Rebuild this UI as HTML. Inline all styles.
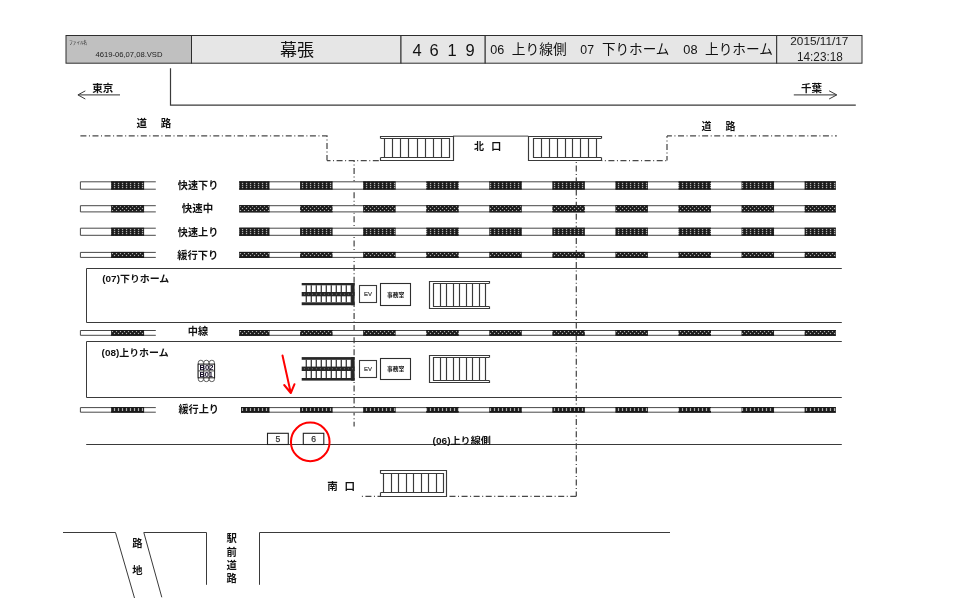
<!DOCTYPE html>
<html lang="ja">
<head>
<meta charset="utf-8">
<title>幕張 4619 構内図</title>
<style>
html,body{margin:0;padding:0;background:#fff;}
body{width:960px;height:604px;overflow:hidden;font-family:"Liberation Sans","Noto Sans CJK JP",sans-serif;}
svg{display:block;will-change:transform;}
svg text{font-family:"Liberation Sans","Noto Sans CJK JP",sans-serif;}
</style>
</head>
<body>
<svg width="960" height="604" viewBox="0 0 960 604">
<rect width="960" height="604" fill="#fff"/>
<g stroke="#2e2e2e" stroke-width="1">
<rect x="66" y="35.5" width="125.5" height="27.7" fill="#c0c0c0"/>
<rect x="191.5" y="35.5" width="209.5" height="27.7" fill="#e6e6e6"/>
<rect x="401" y="35.5" width="84.2" height="27.7" fill="#e6e6e6"/>
<rect x="485.2" y="35.5" width="291.5" height="27.7" fill="#e6e6e6"/>
<rect x="776.7" y="35.5" width="85.3" height="27.7" fill="#e6e6e6"/>
</g>
<text x="69.3" y="43.6" font-size="4.5" fill="#222" textLength="17.8" lengthAdjust="spacingAndGlyphs">ファイル名</text>
<text x="95.4" y="56.9" font-size="6.7" fill="#222" textLength="67.1" lengthAdjust="spacingAndGlyphs">4619-06,07,08.VSD</text>
<text x="297" y="56" font-size="17" fill="#111" text-anchor="middle">幕張</text>
<text x="417" y="56.2" font-size="16.5" fill="#111" text-anchor="middle">4</text>
<text x="434" y="56.2" font-size="16.5" fill="#111" text-anchor="middle">6</text>
<text x="452" y="56.2" font-size="16.5" fill="#111" text-anchor="middle">1</text>
<text x="470" y="56.2" font-size="16.5" fill="#111" text-anchor="middle">9</text>
<text x="490.3" y="54.3" font-size="13.5" fill="#111" textLength="14" lengthAdjust="spacingAndGlyphs">06</text>
<text x="511.8" y="54.3" font-size="13.5" fill="#111" textLength="54.8" lengthAdjust="spacingAndGlyphs">上り線側</text>
<text x="580.3" y="54.3" font-size="13.5" fill="#111" textLength="13.7" lengthAdjust="spacingAndGlyphs">07</text>
<text x="601.9" y="54.3" font-size="13.5" fill="#111" textLength="67.5" lengthAdjust="spacingAndGlyphs">下りホーム</text>
<text x="683.3" y="54.3" font-size="13.5" fill="#111" textLength="14.2" lengthAdjust="spacingAndGlyphs">08</text>
<text x="705" y="54.3" font-size="13.5" fill="#111" textLength="67.9" lengthAdjust="spacingAndGlyphs">上りホーム</text>
<text x="790.3" y="45" font-size="10.6" fill="#222" textLength="58.1" lengthAdjust="spacingAndGlyphs">2015/11/17</text>
<text x="797" y="61.35" font-size="12" fill="#222" textLength="45.8" lengthAdjust="spacingAndGlyphs">14:23:18</text>
<g fill="none" stroke="#3a3a3a" stroke-width="1">
<path d="M170.5 68.3V105.2H855.8" stroke-width="1.2"/>
<path d="M78.2 94.9H120" stroke="#5a5a5a" stroke-width="1.3"/><path d="M85.3 90.9L77.9 94.9L85.3 99"/>
<path d="M793.8 94.9H836.5" stroke="#5a5a5a" stroke-width="1.3"/><path d="M829.1 90.8L836.8 94.9L829.1 99"/>
</g>
<text x="92.3" y="92.2" font-size="10.3" fill="#111" font-weight="bold" textLength="21" lengthAdjust="spacingAndGlyphs">東京</text>
<text x="801.1" y="92.2" font-size="10.3" fill="#111" font-weight="bold" textLength="21" lengthAdjust="spacingAndGlyphs">千葉</text>
<g fill="none" stroke="#484848" stroke-width="1.25" stroke-dasharray="6 2.54 1 2.54">
<path d="M80.4 135.9H327V160.6"/>
<path d="M327 160.6H380" stroke-dashoffset="2.5"/>
<path d="M667 135.9H836.8" stroke-dashoffset="1.1"/>
<path d="M667 160.6V135.9" stroke-dashoffset="1.4"/>
<path d="M601.8 160.6H667" stroke-dashoffset="5.5"/>
<path d="M354.1 160.6V426.6" stroke-dashoffset="4.66"/>
<path d="M576.3 160.6V496.3" stroke-dashoffset="7.26"/>
<path d="M445.8 496.3H576.3" stroke-dashoffset="8.4"/>
<path d="M380 496.3H361.3" stroke-dashoffset="3.5"/>
</g>
<text x="141.7" y="127" font-size="10.5" fill="#111" font-weight="bold" text-anchor="middle">道</text>
<text x="165.9" y="127" font-size="10.5" fill="#111" font-weight="bold" text-anchor="middle">路</text>
<text x="706.4" y="129.8" font-size="10" fill="#111" font-weight="bold" text-anchor="middle">道</text>
<text x="730.4" y="129.8" font-size="10" fill="#111" font-weight="bold" text-anchor="middle">路</text>
<path d="M453 136.05H528.25" stroke="#6a6a6a" stroke-width="1.3" fill="none"/>
<g fill="#fff" stroke="#3a3a3a" stroke-width="1.15"><path d="M380.5 138.5V136.5H453.5V160.5H380.5V157.5"/><path d="M380.5 138.5H449.5V157.5H380.5"/><path d="M384.5 138.5V157.5M392.5 138.5V157.5M400.5 138.5V157.5M408.5 138.5V157.5M417.5 138.5V157.5M425.5 138.5V157.5M433.5 138.5V157.5M441.5 138.5V157.5"/></g>
<g fill="#fff" stroke="#3a3a3a" stroke-width="1.15"><path d="M601.5 138.5V136.5H528.5V160.5H601.5V157.5"/><path d="M601.5 138.5H533.5V157.5H601.5"/><path d="M541.5 138.5V157.5M549.5 138.5V157.5M557.5 138.5V157.5M565.5 138.5V157.5M572.5 138.5V157.5M580.5 138.5V157.5M588.5 138.5V157.5M596.5 138.5V157.5"/></g>
<text x="479" y="149.9" font-size="10" fill="#111" font-weight="bold" text-anchor="middle">北</text>
<text x="496.3" y="149.9" font-size="10" fill="#111" font-weight="bold" text-anchor="middle">口</text>
<g fill="#fff" stroke="#3a3a3a" stroke-width="1.15"><path d="M380.5 473.5V470.5H446.5V496.5H380.5V492.5"/><path d="M380.5 473.5H443.5V492.5H380.5"/><path d="M383.5 473.5V492.5M391.5 473.5V492.5M398.5 473.5V492.5M406.5 473.5V492.5M413.5 473.5V492.5M421.5 473.5V492.5M428.5 473.5V492.5M436.5 473.5V492.5"/></g>
<text x="332.4" y="489.9" font-size="10.5" fill="#111" font-weight="bold" text-anchor="middle">南</text>
<text x="349.8" y="489.9" font-size="10.5" fill="#111" font-weight="bold" text-anchor="middle">口</text>
<g><pattern id="tp1" width="4" height="2" patternUnits="userSpaceOnUse" x="0" y="183"><rect width="4" height="2" fill="#1c1c1c"/><rect x="1.9" y="-0.1" width="1.3" height="1.3" fill="#b0b0b0"/></pattern><path d="M155.8 181.8H80.4V189.2H155.8" fill="#fff" stroke="#484848" stroke-width="1"/><rect x="111.1" y="181.8" width="33" height="7.4" fill="url(#tp1)"/><path d="M111.1 181.8H144.1M111.1 189.2H144.1" stroke="#161616" stroke-width="1"/><rect x="239.2" y="181.3" width="596.6" height="8.4" fill="#fff"/><path d="M239.2 181.8H835.8M239.2 189.2H835.8" stroke="#484848" stroke-width="1"/><rect x="239.2" y="181.8" width="30.3" height="7.4" fill="url(#tp1)"/><path d="M239.2 181.8H269.5M239.2 189.2H269.5" stroke="#161616" stroke-width="1"/><rect x="300.07" y="181.8" width="32.5" height="7.4" fill="url(#tp1)"/><path d="M300.07 181.8H332.57M300.07 189.2H332.57" stroke="#161616" stroke-width="1"/><rect x="363.14" y="181.8" width="32.5" height="7.4" fill="url(#tp1)"/><path d="M363.14 181.8H395.64M363.14 189.2H395.64" stroke="#161616" stroke-width="1"/><rect x="426.21" y="181.8" width="32.5" height="7.4" fill="url(#tp1)"/><path d="M426.21 181.8H458.71M426.21 189.2H458.71" stroke="#161616" stroke-width="1"/><rect x="489.28" y="181.8" width="32.5" height="7.4" fill="url(#tp1)"/><path d="M489.28 181.8H521.78M489.28 189.2H521.78" stroke="#161616" stroke-width="1"/><rect x="552.35" y="181.8" width="32.5" height="7.4" fill="url(#tp1)"/><path d="M552.35 181.8H584.85M552.35 189.2H584.85" stroke="#161616" stroke-width="1"/><rect x="615.42" y="181.8" width="32.5" height="7.4" fill="url(#tp1)"/><path d="M615.42 181.8H647.92M615.42 189.2H647.92" stroke="#161616" stroke-width="1"/><rect x="678.49" y="181.8" width="32.5" height="7.4" fill="url(#tp1)"/><path d="M678.49 181.8H710.99M678.49 189.2H710.99" stroke="#161616" stroke-width="1"/><rect x="741.56" y="181.8" width="32.5" height="7.4" fill="url(#tp1)"/><path d="M741.56 181.8H774.06M741.56 189.2H774.06" stroke="#161616" stroke-width="1"/><rect x="804.63" y="181.8" width="31.17" height="7.4" fill="url(#tp1)"/><path d="M804.63 181.8H835.8M804.63 189.2H835.8" stroke="#161616" stroke-width="1"/></g>
<g><pattern id="tp2" width="4" height="4" patternUnits="userSpaceOnUse" x="0" y="206"><rect width="4" height="4" fill="#1c1c1c"/><rect x="-0.1" y="-0.1" width="1.2" height="1.2" fill="#b0b0b0"/><rect x="3.9" y="-0.1" width="0.1" height="1.2" fill="#b0b0b0"/><rect x="1.9" y="1.9" width="1.2" height="1.2" fill="#b0b0b0"/></pattern><path d="M155.8 205.7H80.4V211.9H155.8" fill="#fff" stroke="#484848" stroke-width="1"/><rect x="111.1" y="205.7" width="33" height="6.2" fill="url(#tp2)"/><path d="M111.1 205.7H144.1M111.1 211.9H144.1" stroke="#161616" stroke-width="1"/><rect x="239.2" y="205.2" width="596.6" height="7.2" fill="#fff"/><path d="M239.2 205.7H835.8M239.2 211.9H835.8" stroke="#484848" stroke-width="1"/><rect x="239.2" y="205.7" width="30.3" height="6.2" fill="url(#tp2)"/><path d="M239.2 205.7H269.5M239.2 211.9H269.5" stroke="#161616" stroke-width="1"/><rect x="300.07" y="205.7" width="32.5" height="6.2" fill="url(#tp2)"/><path d="M300.07 205.7H332.57M300.07 211.9H332.57" stroke="#161616" stroke-width="1"/><rect x="363.14" y="205.7" width="32.5" height="6.2" fill="url(#tp2)"/><path d="M363.14 205.7H395.64M363.14 211.9H395.64" stroke="#161616" stroke-width="1"/><rect x="426.21" y="205.7" width="32.5" height="6.2" fill="url(#tp2)"/><path d="M426.21 205.7H458.71M426.21 211.9H458.71" stroke="#161616" stroke-width="1"/><rect x="489.28" y="205.7" width="32.5" height="6.2" fill="url(#tp2)"/><path d="M489.28 205.7H521.78M489.28 211.9H521.78" stroke="#161616" stroke-width="1"/><rect x="552.35" y="205.7" width="32.5" height="6.2" fill="url(#tp2)"/><path d="M552.35 205.7H584.85M552.35 211.9H584.85" stroke="#161616" stroke-width="1"/><rect x="615.42" y="205.7" width="32.5" height="6.2" fill="url(#tp2)"/><path d="M615.42 205.7H647.92M615.42 211.9H647.92" stroke="#161616" stroke-width="1"/><rect x="678.49" y="205.7" width="32.5" height="6.2" fill="url(#tp2)"/><path d="M678.49 205.7H710.99M678.49 211.9H710.99" stroke="#161616" stroke-width="1"/><rect x="741.56" y="205.7" width="32.5" height="6.2" fill="url(#tp2)"/><path d="M741.56 205.7H774.06M741.56 211.9H774.06" stroke="#161616" stroke-width="1"/><rect x="804.63" y="205.7" width="31.17" height="6.2" fill="url(#tp2)"/><path d="M804.63 205.7H835.8M804.63 211.9H835.8" stroke="#161616" stroke-width="1"/></g>
<g><pattern id="tp3" width="4" height="2" patternUnits="userSpaceOnUse" x="0" y="229"><rect width="4" height="2" fill="#1c1c1c"/><rect x="1.9" y="-0.1" width="1.3" height="1.3" fill="#b0b0b0"/></pattern><path d="M155.8 228.2H80.4V235.3H155.8" fill="#fff" stroke="#484848" stroke-width="1"/><rect x="111.1" y="228.2" width="33" height="7.1" fill="url(#tp3)"/><path d="M111.1 228.2H144.1M111.1 235.3H144.1" stroke="#161616" stroke-width="1"/><rect x="239.2" y="227.7" width="596.6" height="8.1" fill="#fff"/><path d="M239.2 228.2H835.8M239.2 235.3H835.8" stroke="#484848" stroke-width="1"/><rect x="239.2" y="228.2" width="30.3" height="7.1" fill="url(#tp3)"/><path d="M239.2 228.2H269.5M239.2 235.3H269.5" stroke="#161616" stroke-width="1"/><rect x="300.07" y="228.2" width="32.5" height="7.1" fill="url(#tp3)"/><path d="M300.07 228.2H332.57M300.07 235.3H332.57" stroke="#161616" stroke-width="1"/><rect x="363.14" y="228.2" width="32.5" height="7.1" fill="url(#tp3)"/><path d="M363.14 228.2H395.64M363.14 235.3H395.64" stroke="#161616" stroke-width="1"/><rect x="426.21" y="228.2" width="32.5" height="7.1" fill="url(#tp3)"/><path d="M426.21 228.2H458.71M426.21 235.3H458.71" stroke="#161616" stroke-width="1"/><rect x="489.28" y="228.2" width="32.5" height="7.1" fill="url(#tp3)"/><path d="M489.28 228.2H521.78M489.28 235.3H521.78" stroke="#161616" stroke-width="1"/><rect x="552.35" y="228.2" width="32.5" height="7.1" fill="url(#tp3)"/><path d="M552.35 228.2H584.85M552.35 235.3H584.85" stroke="#161616" stroke-width="1"/><rect x="615.42" y="228.2" width="32.5" height="7.1" fill="url(#tp3)"/><path d="M615.42 228.2H647.92M615.42 235.3H647.92" stroke="#161616" stroke-width="1"/><rect x="678.49" y="228.2" width="32.5" height="7.1" fill="url(#tp3)"/><path d="M678.49 228.2H710.99M678.49 235.3H710.99" stroke="#161616" stroke-width="1"/><rect x="741.56" y="228.2" width="32.5" height="7.1" fill="url(#tp3)"/><path d="M741.56 228.2H774.06M741.56 235.3H774.06" stroke="#161616" stroke-width="1"/><rect x="804.63" y="228.2" width="31.17" height="7.1" fill="url(#tp3)"/><path d="M804.63 228.2H835.8M804.63 235.3H835.8" stroke="#161616" stroke-width="1"/></g>
<g><pattern id="tp4" width="4" height="4" patternUnits="userSpaceOnUse" x="0" y="253"><rect width="4" height="4" fill="#1c1c1c"/><rect x="-0.1" y="-0.1" width="1.2" height="1.2" fill="#b0b0b0"/><rect x="3.9" y="-0.1" width="0.1" height="1.2" fill="#b0b0b0"/><rect x="1.9" y="1.9" width="1.2" height="1.2" fill="#b0b0b0"/></pattern><path d="M155.8 252.4H80.4V257.4H155.8" fill="#fff" stroke="#484848" stroke-width="1"/><rect x="111.1" y="252.4" width="33" height="5" fill="url(#tp4)"/><path d="M111.1 252.4H144.1M111.1 257.4H144.1" stroke="#161616" stroke-width="1"/><rect x="239.2" y="251.9" width="596.6" height="6" fill="#fff"/><path d="M239.2 252.4H835.8M239.2 257.4H835.8" stroke="#484848" stroke-width="1"/><rect x="239.2" y="252.4" width="30.3" height="5" fill="url(#tp4)"/><path d="M239.2 252.4H269.5M239.2 257.4H269.5" stroke="#161616" stroke-width="1"/><rect x="300.07" y="252.4" width="32.5" height="5" fill="url(#tp4)"/><path d="M300.07 252.4H332.57M300.07 257.4H332.57" stroke="#161616" stroke-width="1"/><rect x="363.14" y="252.4" width="32.5" height="5" fill="url(#tp4)"/><path d="M363.14 252.4H395.64M363.14 257.4H395.64" stroke="#161616" stroke-width="1"/><rect x="426.21" y="252.4" width="32.5" height="5" fill="url(#tp4)"/><path d="M426.21 252.4H458.71M426.21 257.4H458.71" stroke="#161616" stroke-width="1"/><rect x="489.28" y="252.4" width="32.5" height="5" fill="url(#tp4)"/><path d="M489.28 252.4H521.78M489.28 257.4H521.78" stroke="#161616" stroke-width="1"/><rect x="552.35" y="252.4" width="32.5" height="5" fill="url(#tp4)"/><path d="M552.35 252.4H584.85M552.35 257.4H584.85" stroke="#161616" stroke-width="1"/><rect x="615.42" y="252.4" width="32.5" height="5" fill="url(#tp4)"/><path d="M615.42 252.4H647.92M615.42 257.4H647.92" stroke="#161616" stroke-width="1"/><rect x="678.49" y="252.4" width="32.5" height="5" fill="url(#tp4)"/><path d="M678.49 252.4H710.99M678.49 257.4H710.99" stroke="#161616" stroke-width="1"/><rect x="741.56" y="252.4" width="32.5" height="5" fill="url(#tp4)"/><path d="M741.56 252.4H774.06M741.56 257.4H774.06" stroke="#161616" stroke-width="1"/><rect x="804.63" y="252.4" width="31.17" height="5" fill="url(#tp4)"/><path d="M804.63 252.4H835.8M804.63 257.4H835.8" stroke="#161616" stroke-width="1"/></g>
<g><pattern id="tp5" width="4" height="4" patternUnits="userSpaceOnUse" x="0" y="331"><rect width="4" height="4" fill="#1c1c1c"/><rect x="-0.1" y="-0.1" width="1.2" height="1.2" fill="#b0b0b0"/><rect x="3.9" y="-0.1" width="0.1" height="1.2" fill="#b0b0b0"/><rect x="1.9" y="1.9" width="1.2" height="1.2" fill="#b0b0b0"/></pattern><path d="M155.8 330.5H80.4V335.3H155.8" fill="#fff" stroke="#484848" stroke-width="1"/><rect x="111.1" y="330.5" width="33" height="4.8" fill="url(#tp5)"/><path d="M111.1 330.5H144.1M111.1 335.3H144.1" stroke="#161616" stroke-width="1"/><rect x="239.2" y="330" width="596.6" height="5.8" fill="#fff"/><path d="M239.2 330.5H835.8M239.2 335.3H835.8" stroke="#484848" stroke-width="1"/><rect x="239.2" y="330.5" width="30.3" height="4.8" fill="url(#tp5)"/><path d="M239.2 330.5H269.5M239.2 335.3H269.5" stroke="#161616" stroke-width="1"/><rect x="300.07" y="330.5" width="32.5" height="4.8" fill="url(#tp5)"/><path d="M300.07 330.5H332.57M300.07 335.3H332.57" stroke="#161616" stroke-width="1"/><rect x="363.14" y="330.5" width="32.5" height="4.8" fill="url(#tp5)"/><path d="M363.14 330.5H395.64M363.14 335.3H395.64" stroke="#161616" stroke-width="1"/><rect x="426.21" y="330.5" width="32.5" height="4.8" fill="url(#tp5)"/><path d="M426.21 330.5H458.71M426.21 335.3H458.71" stroke="#161616" stroke-width="1"/><rect x="489.28" y="330.5" width="32.5" height="4.8" fill="url(#tp5)"/><path d="M489.28 330.5H521.78M489.28 335.3H521.78" stroke="#161616" stroke-width="1"/><rect x="552.35" y="330.5" width="32.5" height="4.8" fill="url(#tp5)"/><path d="M552.35 330.5H584.85M552.35 335.3H584.85" stroke="#161616" stroke-width="1"/><rect x="615.42" y="330.5" width="32.5" height="4.8" fill="url(#tp5)"/><path d="M615.42 330.5H647.92M615.42 335.3H647.92" stroke="#161616" stroke-width="1"/><rect x="678.49" y="330.5" width="32.5" height="4.8" fill="url(#tp5)"/><path d="M678.49 330.5H710.99M678.49 335.3H710.99" stroke="#161616" stroke-width="1"/><rect x="741.56" y="330.5" width="32.5" height="4.8" fill="url(#tp5)"/><path d="M741.56 330.5H774.06M741.56 335.3H774.06" stroke="#161616" stroke-width="1"/><rect x="804.63" y="330.5" width="31.17" height="4.8" fill="url(#tp5)"/><path d="M804.63 330.5H835.8M804.63 335.3H835.8" stroke="#161616" stroke-width="1"/></g>
<g><pattern id="tp6" width="4" height="12" patternUnits="userSpaceOnUse" x="0" y="408"><rect width="4" height="12" fill="#1c1c1c"/><rect x="1.9" y="0" width="1.2" height="3" fill="#b0b0b0"/></pattern><path d="M155.8 407.6H80.4V412.2H155.8" fill="#fff" stroke="#484848" stroke-width="1"/><rect x="111.1" y="407.6" width="33" height="4.6" fill="url(#tp6)"/><path d="M111.1 407.6H144.1M111.1 412.2H144.1" stroke="#161616" stroke-width="1"/><rect x="241" y="407.1" width="594.8" height="5.6" fill="#fff"/><path d="M241 407.6H835.8M241 412.2H835.8" stroke="#484848" stroke-width="1"/><rect x="241" y="407.6" width="28.5" height="4.6" fill="url(#tp6)"/><path d="M241 407.6H269.5M241 412.2H269.5" stroke="#161616" stroke-width="1"/><rect x="300.07" y="407.6" width="32.5" height="4.6" fill="url(#tp6)"/><path d="M300.07 407.6H332.57M300.07 412.2H332.57" stroke="#161616" stroke-width="1"/><rect x="363.14" y="407.6" width="32.5" height="4.6" fill="url(#tp6)"/><path d="M363.14 407.6H395.64M363.14 412.2H395.64" stroke="#161616" stroke-width="1"/><rect x="426.21" y="407.6" width="32.5" height="4.6" fill="url(#tp6)"/><path d="M426.21 407.6H458.71M426.21 412.2H458.71" stroke="#161616" stroke-width="1"/><rect x="489.28" y="407.6" width="32.5" height="4.6" fill="url(#tp6)"/><path d="M489.28 407.6H521.78M489.28 412.2H521.78" stroke="#161616" stroke-width="1"/><rect x="552.35" y="407.6" width="32.5" height="4.6" fill="url(#tp6)"/><path d="M552.35 407.6H584.85M552.35 412.2H584.85" stroke="#161616" stroke-width="1"/><rect x="615.42" y="407.6" width="32.5" height="4.6" fill="url(#tp6)"/><path d="M615.42 407.6H647.92M615.42 412.2H647.92" stroke="#161616" stroke-width="1"/><rect x="678.49" y="407.6" width="32.5" height="4.6" fill="url(#tp6)"/><path d="M678.49 407.6H710.99M678.49 412.2H710.99" stroke="#161616" stroke-width="1"/><rect x="741.56" y="407.6" width="32.5" height="4.6" fill="url(#tp6)"/><path d="M741.56 407.6H774.06M741.56 412.2H774.06" stroke="#161616" stroke-width="1"/><rect x="804.63" y="407.6" width="31.17" height="4.6" fill="url(#tp6)"/><path d="M804.63 407.6H835.8M804.63 412.2H835.8" stroke="#161616" stroke-width="1"/></g>
<text x="177.8" y="189.2" font-size="10.2" fill="#111" font-weight="bold" textLength="40.5" lengthAdjust="spacingAndGlyphs">快速下り</text>
<text x="181.8" y="212" font-size="10.2" fill="#111" font-weight="bold" textLength="31.4" lengthAdjust="spacingAndGlyphs">快速中</text>
<text x="177.8" y="235.5" font-size="10.2" fill="#111" font-weight="bold" textLength="40.5" lengthAdjust="spacingAndGlyphs">快速上り</text>
<text x="177.3" y="259" font-size="10.2" fill="#111" font-weight="bold" textLength="41" lengthAdjust="spacingAndGlyphs">緩行下り</text>
<text x="187.8" y="335.4" font-size="10.2" fill="#111" font-weight="bold" textLength="20.4" lengthAdjust="spacingAndGlyphs">中線</text>
<text x="178.5" y="412.7" font-size="10.2" fill="#111" font-weight="bold" textLength="40.5" lengthAdjust="spacingAndGlyphs">緩行上り</text>
<g fill="none" stroke="#3a3a3a" stroke-width="1">
<path d="M841.8 268.5H86.5V322.5H841.8"/>
<path d="M841.8 341.5H86.5V397.5H841.8"/>
<path d="M86.2 444.5H841.8"/>
</g>
<text x="102.3" y="282.2" font-size="9.6" fill="#111" font-weight="bold" textLength="67" lengthAdjust="spacingAndGlyphs">(07)下りホーム</text>
<text x="101.6" y="355.9" font-size="9.6" fill="#111" font-weight="bold" textLength="67" lengthAdjust="spacingAndGlyphs">(08)上りホーム</text>
<text x="432.6" y="443.5" font-size="9.5" fill="#111" font-weight="bold" textLength="58.3" lengthAdjust="spacingAndGlyphs">(06)上り線側</text>
<g><rect x="301.7" y="283" width="52.9" height="22.2" fill="#fff"/><path d="M306.3 285.3V302.3M311.3 285.3V302.3M316.3 285.3V302.3M321.3 285.3V302.3M326.3 285.3V302.3M331.3 285.3V302.3M336.3 285.3V302.3M341.3 285.3V302.3M346.3 285.3V302.3M351.3 285.3V302.3" stroke="#3c3c3c" stroke-width="1.3" fill="none"/><rect x="301.7" y="283" width="52.9" height="2.3" fill="#262626"/><rect x="301.7" y="292" width="52.9" height="4.3" fill="#262626"/><rect x="301.7" y="302.3" width="52.9" height="2.9" fill="#262626"/><rect x="351.2" y="283" width="3.4" height="22.2" fill="#262626"/><path d="M303.9 294.15h0.9M307.9 294.15h0.9M311.9 294.15h0.9M315.9 294.15h0.9M319.9 294.15h0.9M323.9 294.15h0.9M327.9 294.15h0.9M331.9 294.15h0.9M335.9 294.15h0.9M339.9 294.15h0.9M343.9 294.15h0.9M347.9 294.15h0.9M351.9 294.15h0.9" stroke="#8a8a8a" stroke-width="0.9" fill="none"/></g>
<rect x="359.5" y="285.5" width="17" height="17" fill="#fff" stroke="#3a3a3a" stroke-width="1.1"/>
<text x="368" y="296.05" font-size="6" text-anchor="middle" fill="#3a3a3a" stroke="#3a3a3a" stroke-width="0.2">EV</text>
<rect x="380.5" y="283.5" width="30" height="22" fill="#fff" stroke="#2e2e2e" stroke-width="1.1"/>
<text x="395.7" y="296.7" font-size="5.8" fill="#111" font-weight="bold" text-anchor="middle">事務室</text>
<g fill="#fff" stroke="#3a3a3a" stroke-width="1.15"><path d="M489.5 283.5V281.5H429.5V308.5H489.5V306.5"/><path d="M489.5 283.5H433.5V306.5H489.5"/><path d="M440.5 283.5V306.5M446.5 283.5V306.5M453.5 283.5V306.5M459.5 283.5V306.5M466.5 283.5V306.5M472.5 283.5V306.5M479.5 283.5V306.5M485.5 283.5V306.5"/></g>
<g><rect x="301.7" y="357.1" width="52.9" height="23.5" fill="#fff"/><path d="M306.3 359.8V378M311.3 359.8V378M316.3 359.8V378M321.3 359.8V378M326.3 359.8V378M331.3 359.8V378M336.3 359.8V378M341.3 359.8V378M346.3 359.8V378M351.3 359.8V378" stroke="#3c3c3c" stroke-width="1.3" fill="none"/><rect x="301.7" y="357.1" width="52.9" height="2.7" fill="#262626"/><rect x="301.7" y="366.6" width="52.9" height="4.4" fill="#262626"/><rect x="301.7" y="378" width="52.9" height="2.6" fill="#262626"/><rect x="351.2" y="357.1" width="3.4" height="23.5" fill="#262626"/><path d="M303.9 368.8h0.9M307.9 368.8h0.9M311.9 368.8h0.9M315.9 368.8h0.9M319.9 368.8h0.9M323.9 368.8h0.9M327.9 368.8h0.9M331.9 368.8h0.9M335.9 368.8h0.9M339.9 368.8h0.9M343.9 368.8h0.9M347.9 368.8h0.9M351.9 368.8h0.9" stroke="#8a8a8a" stroke-width="0.9" fill="none"/></g>
<rect x="359.5" y="360.5" width="17" height="17" fill="#fff" stroke="#3a3a3a" stroke-width="1.1"/>
<text x="368" y="371.05" font-size="6" text-anchor="middle" fill="#3a3a3a" stroke="#3a3a3a" stroke-width="0.2">EV</text>
<rect x="380.5" y="358.5" width="30" height="21" fill="#fff" stroke="#2e2e2e" stroke-width="1.1"/>
<text x="395.7" y="371.2" font-size="5.8" fill="#111" font-weight="bold" text-anchor="middle">事務室</text>
<g fill="#fff" stroke="#3a3a3a" stroke-width="1.15"><path d="M489.5 357.5V355.5H429.5V382.5H489.5V380.5"/><path d="M489.5 357.5H433.5V380.5H489.5"/><path d="M440.5 357.5V380.5M446.5 357.5V380.5M453.5 357.5V380.5M459.5 357.5V380.5M466.5 357.5V380.5M472.5 357.5V380.5M479.5 357.5V380.5M485.5 357.5V380.5"/></g>
<g fill="#fff" stroke="#4a4a4a" stroke-width="0.9">
<rect x="198.3" y="360.3" width="5.1" height="21.3" rx="2.3"/>
<rect x="203.8" y="360.3" width="5.1" height="21.3" rx="2.3"/>
<rect x="209.3" y="360.3" width="5.1" height="21.3" rx="2.3"/>
</g>
<rect x="198.1" y="364.1" width="16.5" height="13.7" fill="#fff" stroke="#1a1a1a" stroke-width="1"/>
<path d="M198.1 370.9H214.6M203.7 364.1V377.8M209.2 364.1V377.8" stroke="#333" stroke-width="0.9" fill="none"/>
<text x="199.4" y="369.94" font-size="6.4" fill="#120a24" font-weight="bold" textLength="14" lengthAdjust="spacingAndGlyphs">B02</text>
<text x="199.4" y="376.74" font-size="6.4" fill="#120a24" font-weight="bold" textLength="13.6" lengthAdjust="spacingAndGlyphs">B01</text>
<rect x="267.5" y="433.3" width="20.8" height="11.2" fill="#fff" stroke="#222" stroke-width="1.1"/>
<text x="277.9" y="442.3" font-size="8.6" text-anchor="middle" fill="#333" stroke="#333" stroke-width="0.25">5</text>
<rect x="303.3" y="433.3" width="20.5" height="11.2" fill="#fff" stroke="#222" stroke-width="1.1"/>
<text x="313.55" y="442.3" font-size="8.6" text-anchor="middle" fill="#333" stroke="#333" stroke-width="0.25">6</text>
<g fill="none" stroke="#f00" stroke-width="2" stroke-linecap="round" stroke-linejoin="round">
<circle cx="310.25" cy="441.9" r="19.3"/>
<path d="M282.5 355.5L290.8 393M284.2 385L290.8 393L294.5 384.2"/>
</g>
<g fill="none" stroke="#3a3a3a" stroke-width="1">
<path d="M63 532.5H115.5L134.5 598"/>
<path d="M161.8 597.3L143.8 532.5H206.5V584.8"/>
<path d="M259.5 584.8V532.5H670"/>
</g>
<text x="137.5" y="547.2" font-size="10.3" fill="#111" font-weight="bold" text-anchor="middle">路</text>
<text x="137.5" y="574" font-size="10.3" fill="#111" font-weight="bold" text-anchor="middle">地</text>
<text x="231.6" y="542.2" font-size="10.3" fill="#111" font-weight="bold" text-anchor="middle">駅</text>
<text x="231.6" y="556" font-size="10.3" fill="#111" font-weight="bold" text-anchor="middle">前</text>
<text x="231.6" y="569.2" font-size="10.3" fill="#111" font-weight="bold" text-anchor="middle">道</text>
<text x="231.6" y="582.2" font-size="10.3" fill="#111" font-weight="bold" text-anchor="middle">路</text>
</svg>
</body>
</html>
